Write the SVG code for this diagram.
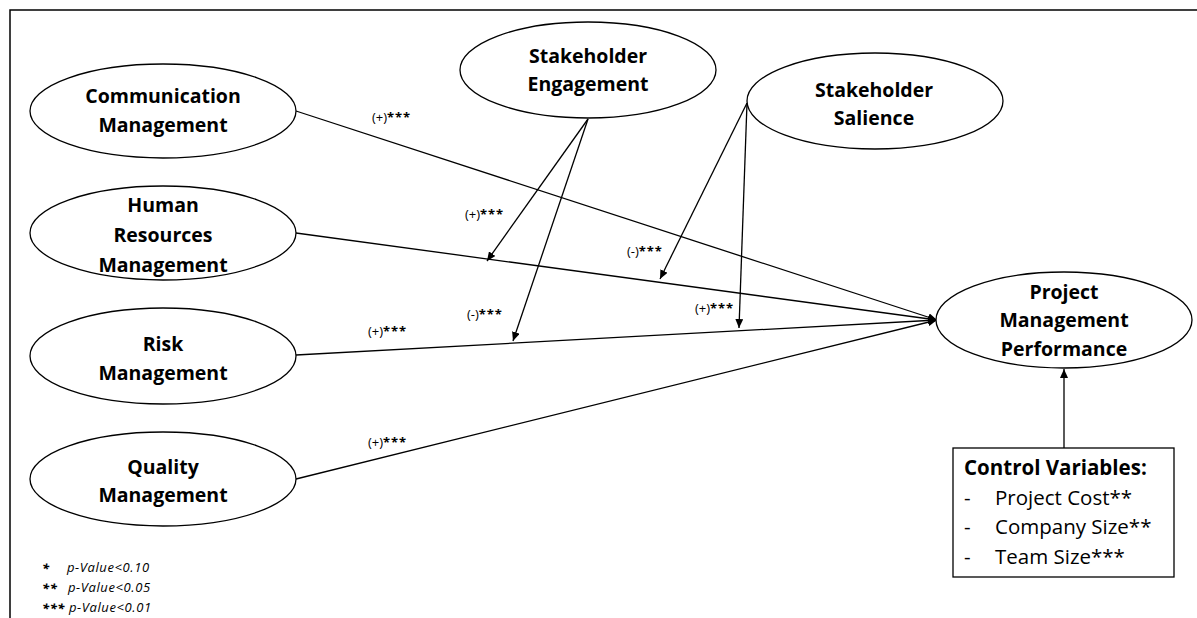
<svg xmlns="http://www.w3.org/2000/svg" width="1197" height="618" viewBox="0 0 1197 618">
  <style>
    .node ellipse { fill: #ffffff; stroke: #000000; stroke-width: 1.3; }
    .node text { font-family: "Open Sans", Lato, "Liberation Sans", sans-serif; font-weight: bold; font-size: 19.5px; fill: #000000; text-anchor: middle; }
    .edge { fill: none; stroke: #000000; stroke-width: 1.3; }
    .lbl { font-family: "Open Sans", Lato, "Liberation Sans", sans-serif; font-size: 13px; fill: #000000; }
    .stars { font-weight: bold; letter-spacing: 0.8px; }
    .note { font-family: "Open Sans", Lato, "Liberation Sans", sans-serif; font-style: italic; font-size: 13px; letter-spacing: 0.6px; fill: #000000; }
    .cv { font-family: "Open Sans", Lato, "Liberation Sans", sans-serif; font-size: 20.5px; fill: #000000; }
  </style>
  <defs>
    <marker id="arrow" markerUnits="userSpaceOnUse" markerWidth="10" markerHeight="8" refX="9" refY="4" orient="auto">
      <path d="M0,0 L9,4 L0,8 Z" fill="#000000"/>
    </marker>
  </defs>

  <rect width="1197" height="618" fill="#ffffff"/>
  <!-- outer frame -->
  <rect x="10" y="10" width="1200" height="620" fill="none" stroke="#000000" stroke-width="1.5"/>

  <!-- connectors -->
  <g id="connectors">
    <line class="edge" x1="296" y1="111" x2="937" y2="320" marker-end="url(#arrow)"/>
    <line class="edge" x1="296" y1="233" x2="937" y2="320" marker-end="url(#arrow)"/>
    <line class="edge" x1="296" y1="355" x2="937" y2="320" marker-end="url(#arrow)"/>
    <line class="edge" x1="296" y1="479" x2="937" y2="320" marker-end="url(#arrow)"/>
    <line class="edge" x1="588" y1="119" x2="487" y2="261" marker-end="url(#arrow)"/>
    <line class="edge" x1="588" y1="119" x2="513" y2="341" marker-end="url(#arrow)"/>
    <line class="edge" x1="747" y1="103" x2="660" y2="279" marker-end="url(#arrow)"/>
    <line class="edge" x1="747" y1="103" x2="739" y2="328" marker-end="url(#arrow)"/>
    <line class="edge" x1="1064" y1="448" x2="1064" y2="369" marker-end="url(#arrow)"/>

    <text class="lbl" x="372" y="122">(+)<tspan class="stars">***</tspan></text>
    <text class="lbl" x="465" y="219">(+)<tspan class="stars">***</tspan></text>
    <text class="lbl" x="627" y="256">(-)<tspan class="stars">***</tspan></text>
    <text class="lbl" x="467" y="319">(-)<tspan class="stars">***</tspan></text>
    <text class="lbl" x="695" y="313">(+)<tspan class="stars">***</tspan></text>
    <text class="lbl" x="368" y="336">(+)<tspan class="stars">***</tspan></text>
    <text class="lbl" x="368" y="447">(+)<tspan class="stars">***</tspan></text>
  </g>

  <g id="communication" class="node">
    <ellipse cx="163" cy="111" rx="133" ry="47"/>
    <text x="163" y="103">Communication</text>
    <text x="163" y="132">Management</text>
  </g>

  <g id="human-resources" class="node">
    <ellipse cx="163" cy="233" rx="133" ry="47"/>
    <text x="163" y="212">Human</text>
    <text x="163" y="242">Resources</text>
    <text x="163" y="272">Management</text>
  </g>

  <g id="risk" class="node">
    <ellipse cx="163" cy="356" rx="133" ry="48"/>
    <text x="163" y="351">Risk</text>
    <text x="163" y="380">Management</text>
  </g>

  <g id="quality" class="node">
    <ellipse cx="163" cy="479" rx="133" ry="47"/>
    <text x="163" y="474">Quality</text>
    <text x="163" y="502">Management</text>
  </g>

  <g id="engagement" class="node">
    <ellipse cx="588" cy="70" rx="128" ry="48"/>
    <text x="588" y="63">Stakeholder</text>
    <text x="588" y="91">Engagement</text>
  </g>

  <g id="salience" class="node">
    <ellipse cx="875" cy="101" rx="128" ry="48"/>
    <text x="874" y="97">Stakeholder</text>
    <text x="874" y="125">Salience</text>
  </g>

  <g id="performance" class="node">
    <ellipse cx="1064" cy="320" rx="128" ry="48"/>
    <text x="1064" y="299">Project</text>
    <text x="1064" y="327">Management</text>
    <text x="1064" y="356">Performance</text>
  </g>

  <g id="controls">
    <rect x="953" y="448" width="221" height="129" fill="#ffffff" stroke="#000000" stroke-width="1.3"/>
    <text class="cv" x="964" y="475" font-weight="bold">Control Variables:</text>
    <text class="cv" x="964" y="505">-</text>
    <text class="cv" x="995" y="505">Project Cost**</text>
    <text class="cv" x="964" y="534">-</text>
    <text class="cv" x="995" y="534">Company Size**</text>
    <text class="cv" x="964" y="564">-</text>
    <text class="cv" x="995" y="564">Team Size***</text>
  </g>

  <g id="legend">
    <text class="note stars" x="42" y="573">*</text>
    <text class="note" x="67" y="572">p-Value&lt;0.10</text>
    <text class="note stars" x="42" y="593">**</text>
    <text class="note" x="68" y="592">p-Value&lt;0.05</text>
    <text class="note stars" x="42" y="613">***</text>
    <text class="note" x="69" y="612">p-Value&lt;0.01</text>
  </g>
</svg>
